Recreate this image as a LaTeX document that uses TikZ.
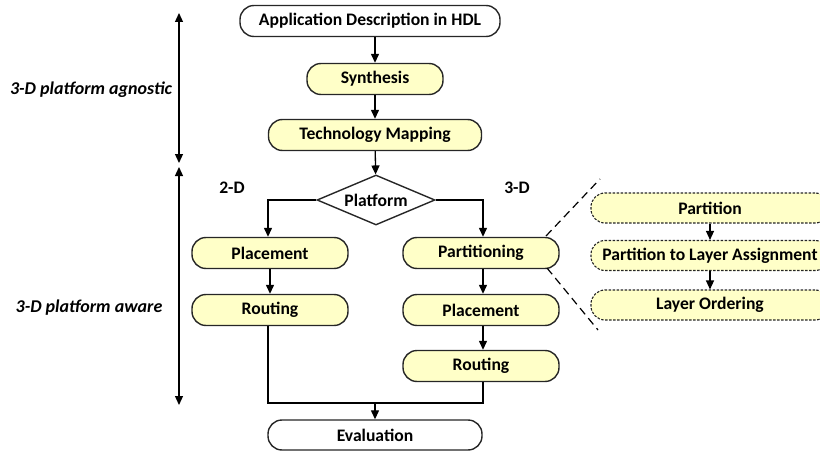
\documentclass[tikz,border=0pt]{standalone}
\usepackage{fontspec}
\setmainfont{Carlito}
\usetikzlibrary{shapes.geometric,arrows.meta}
\definecolor{boxfill}{RGB}{255,255,200}
\tikzset{
  every node/.style={font=\bfseries\fontsize{17.6}{20}\selectfont},
  proc/.style={draw=black!85, line width=1.4pt, rounded corners=14pt, fill=boxfill, minimum height=31pt, inner sep=0pt},
  term/.style={proc, fill=white},
  sub/.style={proc, dash pattern=on 2.5pt off 1.5pt, line width=1.1pt, minimum height=30pt},
  arr/.style={line width=1.3pt, -{Triangle[length=9pt,width=8pt]}},
  dbl/.style={line width=1.3pt, {Triangle[length=9pt,width=8pt]}-{Triangle[length=9pt,width=8pt]}},
  lbl/.style={font=\bfseries\itshape\fontsize{18}{20}\selectfont},
}
\begin{document}
\begin{tikzpicture}[x=1pt,y=-1pt]
\useasboundingbox (0,0) rectangle (820,452);
\clip (0,0) rectangle (820,452);
\node[term, minimum width=260pt] (app) at (370,21) {Application Description in HDL};
\node[proc, minimum width=136pt] (syn) at (375,79) {Synthesis};
\node[proc, minimum width=213pt] (tm) at (375,135) {Technology Mapping};
\node[draw=black!85, line width=1.4pt, diamond, aspect=2.36, minimum width=118pt, minimum height=50pt, inner sep=0pt] (plat) at (376,200) {Platform};
\node[proc, minimum width=156pt] (pl1) at (270,253) {Placement};
\node[proc, minimum width=156pt] (rt1) at (270,310) {Routing};
\node[proc, minimum width=156pt] (part) at (481,253) {Partitioning};
\node[proc, minimum width=156pt] (pl2) at (481,310) {Placement};
\node[proc, minimum width=156pt] (rt2) at (481,366) {Routing};
\node[term, minimum width=214pt, minimum height=30pt] (eval) at (375,435) {Evaluation};
\node (l2d) at (232,188) {2-D};
\node (l3d) at (517,188) {3-D};
\node[sub, minimum width=238pt] (s1) at (710,208) {Partition};
\node[sub, minimum width=238pt] (s2) at (710,255.5) {Partition to Layer Assignment};
\node[sub, minimum width=238pt] (s3) at (710,305) {Layer Ordering};
\coordinate (j) at (375,403);
\draw[arr] (app.south -| syn) -- (syn);
\draw[arr] (syn) -- (tm);
\draw[arr] (tm) -- (plat);
\draw[arr] (plat.west) -| (pl1.north -| 268,0);
\draw[arr] (plat.east) -| (part.north -| 483,0);
\draw[arr] (pl1) -- (rt1);
\draw[arr] (part.south -| 483,0) -- (pl2.north -| 483,0);
\draw[arr] (pl2.south -| 483,0) -- (rt2.north -| 483,0);
\draw[line width=1.3pt] (rt1.south -| 268,0) |- (j) -| (rt2.south -| 483,0);
\draw[arr] (j) -- (eval);
\draw[arr] (s1) -- (s2);
\draw[arr] (s2) -- (s3);
\coordinate (d1) at (600,179);
\coordinate (d2) at (598,330);
\draw[line width=1.2pt, dash pattern=on 8pt off 5pt] (546,236) -- (d1);
\draw[line width=1.2pt, dash pattern=on 8pt off 5pt] (547,268) -- (d2);
\coordinate (a1) at (179,13);
\coordinate (a2) at (179,163);
\coordinate (a3) at (179,167);
\coordinate (a4) at (179,405);
\draw[dbl] (a1) -- (a2);
\draw[dbl] (a3) -- (a4);
\node[lbl] (ag) at (91,90) {3-D platform agnostic};
\node[lbl] (aw) at (89,308) {3-D platform aware};
\end{tikzpicture}
\end{document}
